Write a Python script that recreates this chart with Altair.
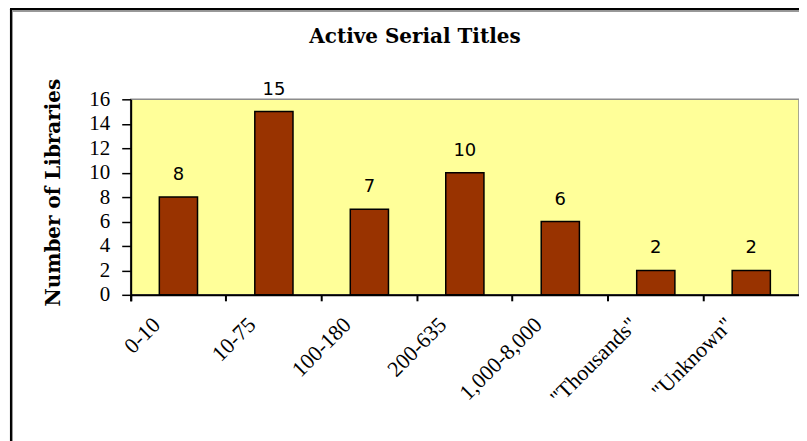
import altair as alt
import pandas as pd

categories = ["0-10", "10-75", "100-180", "200-635", "1,000-8,000", "\"Thousands\"", "\"Unknown\""]
libraries = [8, 15, 7, 10, 6, 2, 2]
y_ticks = [0, 2, 4, 6, 8, 10, 12, 14, 16]
chart_title = "Active Serial Titles"

df = pd.DataFrame({"range": categories, "count": libraries})

W, H = 670, 196

x_axis = alt.Axis(title=None, labelAngle=-45, labelAlign="right", labelBaseline="middle",
                  labelOffset=-22, labelPadding=20, labelFont="Liberation Serif",
                  labelFontSize=22, labelColor="black", domainColor="black", domainWidth=2,
                  tickColor="black", tickWidth=2, tickSize=6, bandPosition=0, tickExtra=True,
                  labelLimit=300, labelOverlap=False)
y_axis = alt.Axis(title="Number of Libraries", values=y_ticks, grid=False,
                  labelOverlap=False, tickCount=9,
                  labelFont="Liberation Serif", labelFontSize=21, labelColor="black",
                  labelPadding=12, domainColor="black", domainWidth=2,
                  tickColor="black", tickWidth=1.5, tickSize=9,
                  titleFont="DejaVu Serif", titleFontSize=20, titleFontWeight="bold",
                  titleColor="black", titleAngle=-90, titleAlign="center",
                  titleBaseline="middle", titleX=-77, titleY=93)

x_enc = alt.X("range:N", sort=categories,
              scale=alt.Scale(paddingInner=0, paddingOuter=0), axis=x_axis)
y_enc = alt.Y("count:Q", scale=alt.Scale(domain=[0, 16], nice=False), axis=y_axis)

bars = alt.Chart(df).mark_bar(color="#993300", stroke="black", strokeWidth=1.5,
                              width=alt.RelativeBandSize(0.4)).encode(x=x_enc, y=y_enc)

labels = alt.Chart(df).mark_text(font="DejaVu Sans", fontSize=18, color="black",
                                 baseline="bottom", dy=-13).encode(
    x=x_enc, y=y_enc, text="count:Q")

title_df = pd.DataFrame({"t": [chart_title]})
title_mark = alt.Chart(title_df).mark_text(font="DejaVu Serif", fontSize=20, fontWeight="bold",
                                           color="black", align="center", baseline="alphabetic").encode(
    x=alt.value(285), y=alt.value(-56), text="t:N")

frame_top = alt.Chart(df).mark_rule(color="black", strokeWidth=2).encode(
    x=alt.value(-121), x2=alt.value(W + 40), y=alt.value(-90))
frame_left = alt.Chart(df).mark_rule(color="black", strokeWidth=2).encode(
    x=alt.value(-120), y=alt.value(-91), y2=alt.value(H + 200))
frame_top_in = alt.Chart(df).mark_rule(color="#9a9a9a", strokeWidth=1).encode(
    x=alt.value(-119), x2=alt.value(W + 40), y=alt.value(-88.5))
frame_left_in = alt.Chart(df).mark_rule(color="#9a9a9a", strokeWidth=1).encode(
    x=alt.value(-118.5), y=alt.value(-89), y2=alt.value(H + 200))

chart = alt.layer(bars, labels, title_mark, frame_top, frame_left, frame_top_in, frame_left_in).properties(
    width=W, height=H,
    autosize=alt.AutoSizeParams(type="none"),
    padding={"left": 123, "top": 91, "right": 0, "bottom": 146},
).configure(background="white").configure_view(fill="#FFFF99", stroke="#8c8c8c", strokeWidth=1.5)

chart.save("out.html", embed_options={"renderer": "svg", "actions": False})
